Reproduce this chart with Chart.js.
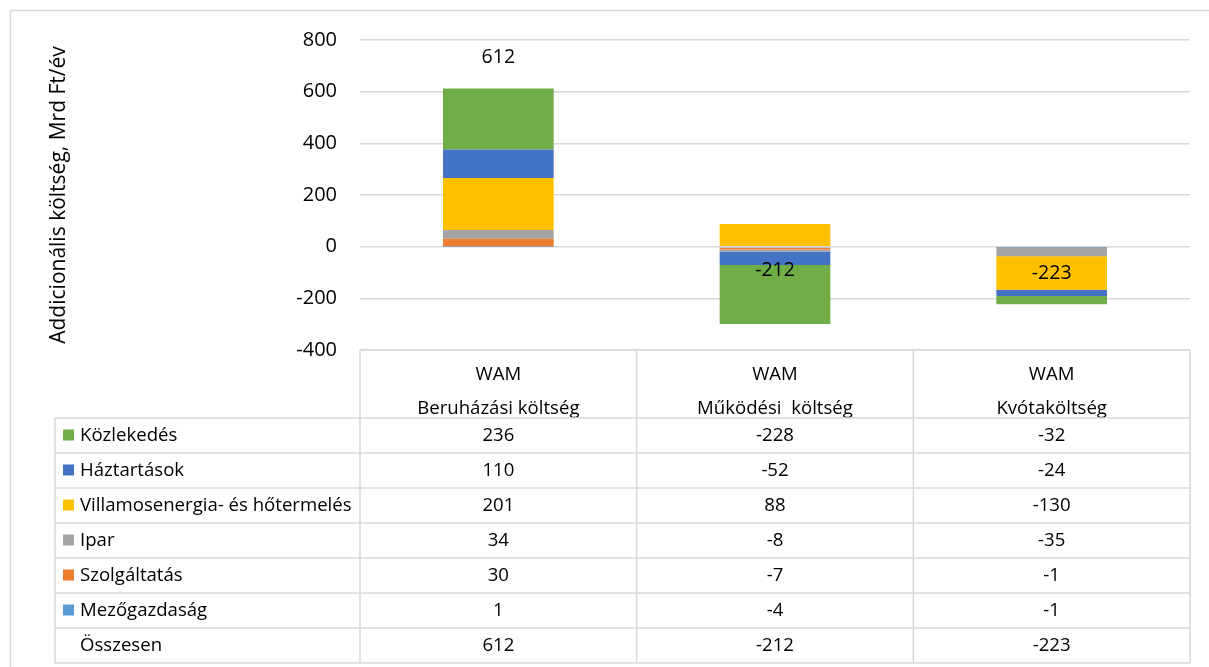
<!DOCTYPE html>
<html>
<head>
<meta charset="utf-8">
<script src="https://cdn.jsdelivr.net/npm/chart.js@4"></script>
<style>
  html, body { margin: 0; padding: 0; background: #fff; }
  #wrap { width: 1209px; height: 667px; position: relative; }
</style>
</head>
<body>
<div id="wrap"><canvas id="costChart"></canvas></div>
<script>
// categories (two-line header of the data table)
const categories = [
  ['WAM', 'Beruházási költség'],
  ['WAM', 'Működési  költség'],
  ['WAM', 'Kvótaköltség']
];

// series, bottom of the stack first
const mezogazdasag = [1, -4, -1];
const szolgaltatas = [30, -7, -1];
const ipar = [34, -8, -35];
const villamos = [201, 88, -130];
const haztartasok = [110, -52, -24];
const kozlekedes = [236, -228, -32];
const osszesen = [612, -212, -223];

const yTicks = [-400, -200, 0, 200, 400, 600, 800];

const FONT = '"Open Sans", "Noto Sans", sans-serif';
const GRID = '#d9d9d9';

const datasets = [
  { label: 'Mezőgazdaság', data: mezogazdasag, backgroundColor: '#5B9BD5' },
  { label: 'Szolgáltatás', data: szolgaltatas, backgroundColor: '#ED7D31' },
  { label: 'Ipar', data: ipar, backgroundColor: '#A5A5A5' },
  { label: 'Villamosenergia- és hőtermelés', data: villamos, backgroundColor: '#FFC000' },
  { label: 'Háztartások', data: haztartasok, backgroundColor: '#4472C4' },
  { label: 'Közlekedés', data: kozlekedes, backgroundColor: '#70AD47' }
];

// outer frame of the chart object
const framePlugin = {
  id: 'frame',
  beforeDraw(chart) {
    const c = chart.ctx;
    c.save();
    c.strokeStyle = GRID;
    c.lineWidth = 1.5;
    c.beginPath();
    c.moveTo(10.5, 667);
    c.lineTo(10.5, 10.5);
    c.lineTo(1209, 10.5);
    c.stroke();
    c.restore();
  }
};

// totals written above the invisible "Összesen" points
const totalsPlugin = {
  id: 'totals',
  afterDatasetsDraw(chart) {
    const c = chart.ctx;
    const xs = chart.scales.x, ys = chart.scales.y;
    c.save();
    c.font = '19.5px ' + FONT;
    c.fillStyle = '#000';
    c.textAlign = 'center';
    c.textBaseline = 'middle';
    osszesen.forEach((v, i) => {
      c.fillText(String(v), xs.getPixelForValue(i), ys.getPixelForValue(v) - 31);
    });
    c.restore();
  }
};

// data table under the plot
const tablePlugin = {
  id: 'dataTable',
  afterDraw(chart) {
    const c = chart.ctx;
    const xs = chart.scales.x;
    const area = chart.chartArea;
    const colW = xs.getPixelForValue(1) - xs.getPixelForValue(0);
    const edges = [];
    for (let i = 0; i <= categories.length; i++) edges.push(xs.getPixelForValue(i) - colW / 2);
    const tableLeft = 55;
    const headTop = area.bottom;
    const rowTop = 418;
    const rowH = 35;
    const rows = datasets.slice().reverse();
    const nRows = rows.length + 1;
    const bottom = rowTop + nRows * rowH;

    c.save();
    c.strokeStyle = GRID;
    c.lineWidth = 1.5;
    c.beginPath();
    // header box
    c.moveTo(edges[0], headTop); c.lineTo(edges[edges.length - 1], headTop);
    edges.forEach(x => { c.moveTo(x, headTop); c.lineTo(x, bottom); });
    // rows
    for (let r = 0; r <= nRows; r++) {
      const y = rowTop + r * rowH;
      c.moveTo(tableLeft, y); c.lineTo(edges[edges.length - 1], y);
    }
    c.moveTo(tableLeft, rowTop); c.lineTo(tableLeft, bottom);
    c.stroke();

    c.font = '18.6px ' + FONT;
    c.fillStyle = '#000';
    c.textBaseline = 'middle';
    const allRows = rows.map(d => ({ label: d.label, color: d.backgroundColor, data: d.data }))
      .concat([{ label: 'Összesen', color: null, data: osszesen }]);
    allRows.forEach((row, r) => {
      const cy = rowTop + r * rowH + rowH / 2;
      if (row.color) {
        c.fillStyle = row.color;
        c.fillRect(63, cy - 6, 11, 11);
      }
      c.fillStyle = '#000';
      c.textAlign = 'left';
      c.fillText(row.label, 80, cy);
      c.textAlign = 'center';
      row.data.forEach((v, i) => c.fillText(String(v), xs.getPixelForValue(i), cy));
    });
    c.restore();
  }
};

new Chart(document.getElementById('costChart'), {
  type: 'bar',
  data: { labels: categories, datasets: datasets },
  options: {
    responsive: true,
    maintainAspectRatio: false,
    animation: false,
    layout: { padding: { left: 0, right: 19, top: 40, bottom: 0 } },
    datasets: { bar: { categoryPercentage: 1, barPercentage: 0.4, borderWidth: 0 } },
    plugins: { legend: { display: false }, tooltip: { enabled: false } },
    scales: {
      x: {
        stacked: true,
        offset: true,
        grid: { display: false },
        border: { display: false },
        ticks: {
          padding: 0,
          color: '#000',
          maxRotation: 0,
          autoSkip: false,
          font: { family: FONT, size: 18.6, lineHeight: '34px' }
        },
        afterFit(s) { s.height = 317; }
      },
      y: {
        stacked: true,
        min: -400,
        max: 800,
        afterBuildTicks(s) { s.ticks = yTicks.map(v => ({ value: v })); },
        grid: { color: GRID, lineWidth: 1.5, drawTicks: false },
        border: { display: false },
        ticks: {
          padding: 23,
          color: '#000',
          font: { family: FONT, size: 20 }
        },
        title: {
          display: true,
          text: 'Addicionális költség, Mrd Ft/év',
          color: '#000',
          font: { family: FONT, size: 21 },
          padding: { top: 46, bottom: 0 }
        },
        afterFit(s) { s.width = 360; }
      }
    }
  },
  plugins: [framePlugin, totalsPlugin, tablePlugin]
});
</script>
</body>
</html>
